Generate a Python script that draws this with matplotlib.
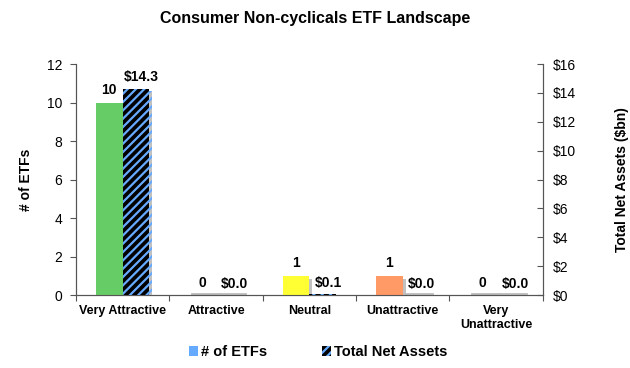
import numpy as np
import matplotlib
matplotlib.use("Agg")
from matplotlib import pyplot as plt
from matplotlib import patheffects as pe
from matplotlib.patches import Patch

categories = ["Very Attractive", "Attractive", "Neutral", "Unattractive", "Very\nUnattractive"]
num_etfs = [10, 0, 1, 1, 0]
net_assets = [14.3, 0.0, 0.1, 0.0, 0.0]
bar_colors = ["#66CC66", "#BBBBBB", "#FFFF33", "#FF9966", "#BBBBBB"]

plt.rcParams["font.family"] = ["Liberation Sans", "DejaVu Sans"]
plt.rcParams["hatch.linewidth"] = 1.6

fig = plt.figure(figsize=(6.3, 3.68), dpi=100)
ax = fig.add_axes([0.1206, 0.198, 0.741, 0.628])
ax2 = ax.twinx()

x = np.arange(len(categories))
w = 0.285
shadow = [pe.SimplePatchShadow(offset=(2, -2), shadow_rgbFace="#999999", alpha=0.6), pe.Normal()]

b1 = ax.bar(x - w / 2, num_etfs, w, color=bar_colors, linewidth=0, zorder=3)
b2 = ax2.bar(x + w / 2, net_assets, w, facecolor="black", edgecolor="#66AAFF",
             hatch="////", linewidth=0, zorder=3)
for b in list(b1) + list(b2):
    b.set_path_effects(shadow)

# grey shadows of the empty bars
for xi, v in zip(x, num_etfs):
    if v == 0:
        ax.plot([xi - w + 0.03, xi + 0.03], [0.06, 0.06], color="#BBBBBB", lw=2, zorder=2)
for xi, v in zip(x, net_assets):
    if v < 0.05:
        ax2.plot([xi + 0.03, xi + w + 0.03], [0.08, 0.08], color="#BBBBBB", lw=2, zorder=2)

for xi, v in zip(x, num_etfs):
    ax.annotate(f"{v}", (xi - w / 2, v), xytext=(0, 4), textcoords="offset points",
                ha="center", va="bottom", fontsize=10, fontweight="bold")
for xi, v in zip(x, net_assets):
    ax2.annotate(f"${v:.1f}", (xi + w / 2, v), xytext=(4, 3), textcoords="offset points",
                 ha="center", va="bottom", fontsize=10, fontweight="bold")

ax.set_xlim(-0.5, len(categories) - 0.5)
ax.set_ylim(0, 12)
ax.set_yticks(range(0, 13, 2))
ax2.set_ylim(0, 16)
ax2.set_yticks(range(0, 17, 2))
ax2.set_yticklabels([f"${t}" for t in range(0, 17, 2)])

ax.set_xticks(np.arange(-0.5, len(categories), 1), minor=False)
ax.set_xticklabels([])
ax.set_xticks(x, minor=True)
ax.set_xticklabels(categories, minor=True, fontsize=9, fontweight="bold")
ax.tick_params(axis="x", which="minor", length=0, pad=7)
ax.tick_params(axis="x", which="major", length=4, direction="out", color="#555555")

ax.tick_params(axis="y", labelsize=10, length=4, direction="out", pad=6, color="#555555")
ax2.tick_params(axis="y", labelsize=10, length=4, direction="in", pad=7, color="#555555")

ax.set_ylabel("# of ETFs", fontsize=10, fontweight="bold", labelpad=10)
ax2.set_ylabel("Total Net Assets ($bn)", fontsize=10, fontweight="bold", labelpad=28)

for a in (ax, ax2):
    a.spines["top"].set_visible(False)
    a.spines["left"].set_color("#555555")
    a.spines["right"].set_color("#555555")
    a.spines["bottom"].set_color("#555555")

fig.text(0.5, 0.951, "Consumer Non-cyclicals ETF Landscape", ha="center", va="center",
         fontsize=11.5, fontweight="bold")

handles = [Patch(facecolor="#66AAFF", linewidth=0),
           Patch(facecolor="black", edgecolor="#66AAFF", hatch="////", linewidth=0)]
fig.legend(handles, ["# of ETFs", "Total Net Assets"], loc="center", bbox_to_anchor=(0.505, 0.043),
           ncol=2, frameon=False, prop={"size": 10.5, "weight": "bold"}, handlelength=0.6,
           handleheight=0.6, handletextpad=0.2, columnspacing=3.8)

fig.savefig("out.png", dpi=100)
